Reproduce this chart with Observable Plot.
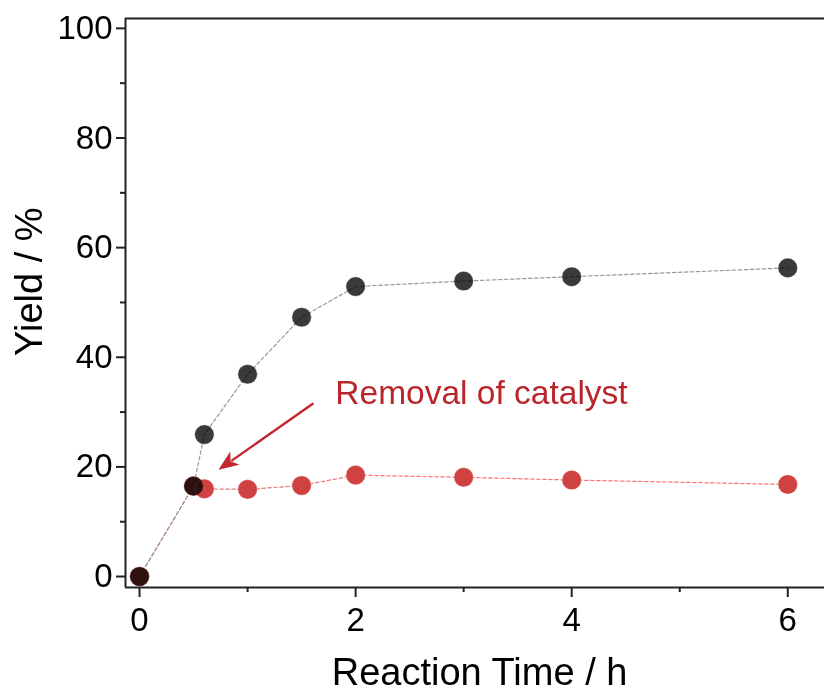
<!DOCTYPE html>
<html>
<head>
<meta charset="utf-8">
<script src="https://cdn.jsdelivr.net/npm/d3@7"></script>
<script src="https://cdn.jsdelivr.net/npm/@observablehq/plot@0.6"></script>
<style>
  html, body { margin: 0; padding: 0; background: #fff; overflow: hidden; }
  #chart svg { display: block; }
</style>
</head>
<body>
<div id="chart"></div>
<script>
// Reaction time (h) and yield (%)
const timeFull = [0, 0.5, 0.6, 1, 1.5, 2, 3, 4, 6];
const yieldFull = [0, 16.5, 25.9, 36.9, 47.3, 52.9, 53.9, 54.7, 56.3];
const timeRemoved = [0, 0.5, 0.6, 1, 1.5, 2, 3, 4, 6];
const yieldRemoved = [0, 16.5, 16.0, 15.9, 16.6, 18.5, 18.1, 17.6, 16.8];
const xMajorTicks = [0, 2, 4, 6];
const xMinorTicks = [1, 3, 5];
const yMajorTicks = [0, 20, 40, 60, 80, 100];
const yMinorTicks = [10, 30, 50, 70, 90];
const annotationText = "Removal of catalyst";
const xLabel = "Reaction Time / h";
const yLabel = "Yield / %";

const full = timeFull.map((t, i) => ({t, y: yieldFull[i]}));
const removed = timeRemoved.map((t, i) => ({t, y: yieldRemoved[i]}));

const X0 = -0.13, X1 = 6.34, Y0 = -2.0, Y1 = 101.8;
const font = "Liberation Sans, Arial, Helvetica, sans-serif";

// notched, filled arrowhead pointing up with its tip at the origin
const arrowHead = {
  draw(context, size) {
    const s = Math.sqrt(size / Math.PI);
    context.moveTo(0, 0);
    context.lineTo(-0.85 * s, 2.1 * s);
    context.lineTo(0, 1.55 * s);
    context.lineTo(0.85 * s, 2.1 * s);
    context.closePath();
  }
};

const chart = Plot.plot({
  width: 824,
  height: 695,
  marginLeft: 125,
  marginRight: 0,
  marginTop: 18,
  marginBottom: 108,
  style: {fontFamily: font, background: "#fff", overflow: "visible"},
  x: {domain: [X0, X1]},
  y: {domain: [Y0, Y1]},
  marks: [
    // lines
    Plot.line(removed, {x: "t", y: "y", stroke: "#f07878", strokeWidth: 1.2, strokeDasharray: "3.5,2.5"}),
    Plot.line(full, {x: "t", y: "y", stroke: "#9a9a9a", strokeWidth: 1.2, strokeDasharray: "3.5,2.5"}),
    // dots
    Plot.dot(removed, {x: "t", y: "y", r: 9.8, fill: "#d04242", stroke: "#fff", strokeWidth: 0.5}),
    Plot.dot(full, {x: "t", y: "y", r: 9.8, fill: "#3a3a3a", stroke: "#fff", strokeWidth: 0.5, mixBlendMode: "multiply"}),
    // frame
    Plot.ruleY([Y1], {stroke: "#222", strokeWidth: 2}),
    Plot.ruleX([X0], {stroke: "#222", strokeWidth: 2}),
    Plot.ruleY([Y0], {stroke: "#222", strokeWidth: 2}),
    // axes
    Plot.axisX({ticks: xMajorTicks, tickSize: 10, tickPadding: 10, tickFormat: d3.format("d"), fontSize: 33, stroke: "#222", strokeWidth: 2, label: null, color: "#000"}),
    Plot.axisX({ticks: xMinorTicks, tickSize: 5, tickFormat: () => "", stroke: "#222", strokeWidth: 2, label: null}),
    Plot.axisY({ticks: yMajorTicks, tickSize: 9, tickPadding: 4, tickFormat: d3.format("d"), fontSize: 33, stroke: "#222", strokeWidth: 2, label: null, color: "#000"}),
    Plot.axisY({ticks: yMinorTicks, tickSize: 5, tickFormat: () => "", stroke: "#222", strokeWidth: 2, label: null}),
    // axis titles
    Plot.text([xLabel], {x: 3.147, frameAnchor: "bottom", dy: 97, fontSize: 38, fill: "#000", text: d => d}),
    Plot.text([yLabel], {x: X0, y: 53.8, dx: -96, rotate: -90, textAnchor: "middle", fontSize: 38, fill: "#000", text: d => d}),
    // annotation
    Plot.text([annotationText], {x: 3.165, y: 33.4, fontSize: 33.5, fill: "#b8262c", text: d => d}),
    Plot.link([{x1: 1.61, y1: 31.6, x2: 0.85, y2: 21.1}], {x1: "x1", y1: "y1", x2: "x2", y2: "y2", stroke: "#c0282e", strokeWidth: 2.4}),
    Plot.dot([{x: 0.731, y: 19.5}], {x: "x", y: "y", r: 9.5, symbol: arrowHead, rotate: 235, fill: "#c0282e", stroke: "none"})
  ]
});
document.getElementById("chart").appendChild(chart);
</script>
</body>
</html>
